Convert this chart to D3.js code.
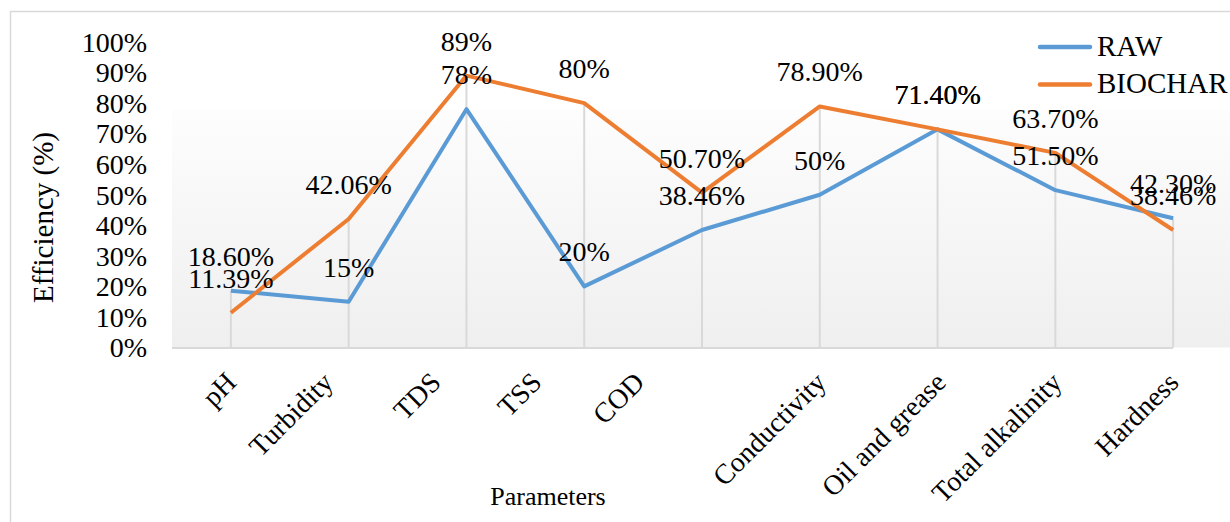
<!DOCTYPE html>
<html>
<head>
<meta charset="utf-8">
<script src="https://cdn.jsdelivr.net/npm/d3@7/dist/d3.min.js"></script>
<style>
  html, body { margin: 0; padding: 0; background: #ffffff; }
  svg { display: block; }
  text { font-family: "Liberation Serif", "Times New Roman", serif; fill: #000; }
</style>
</head>
<body>
<svg id="chart" width="1230" height="522"></svg>
<script>
// Removal efficiency per water-quality parameter
const categories = ["pH", "Turbidity", "TDS", "TSS", "COD", "Conductivity", "Oil and grease", "Total alkalinity", "Hardness"];
const rawValues = [0.186, 0.15, 0.78, 0.20, 0.3846, 0.50, 0.714, 0.515, 0.423];
const biocharValues = [0.1139, 0.4206, 0.89, 0.80, 0.507, 0.789, 0.714, 0.637, 0.3846];
const rawLabels = ["18.60%", "15%", "78%", "20%", "38.46%", "50%", "71.40%", "51.50%", "42.30%"];
const biocharLabels = ["11.39%", "42.06%", "89%", "80%", "50.70%", "78.90%", "71.40%", "63.70%", "38.46%"];
const yTicks = [0, 0.1, 0.2, 0.3, 0.4, 0.5, 0.6, 0.7, 0.8, 0.9, 1.0];

const series = [
  { name: "RAW", color: "#5B9BD5", values: rawValues, labels: rawLabels },
  { name: "BIOCHAR", color: "#ED7D31", values: biocharValues, labels: biocharLabels }
];

// Hand-tuned horizontal shifts for the rotated category labels
const catLabelShift = [-3, -24, -34, -51, -66, -2, 0, -2, -3];

const svg = d3.select("#chart");
const plot = { left: 172, right: 1232, top: 110, bottom: 347.5 };

const x = d3.scalePoint().domain(categories).range([plot.left, plot.right]).padding(0.5);
const y = d3.scaleLinear().domain([0, 1]).range([347.5, 42]);

// Chart frame
svg.append("rect")
  .attr("x", 10.5).attr("y", 11.5)
  .attr("width", 1300).attr("height", 600)
  .attr("fill", "none").attr("stroke", "#d9d9d9").attr("stroke-width", 1.5);

// Plot-area fill
const defs = svg.append("defs");
const grad = defs.append("linearGradient").attr("id", "plotFill")
  .attr("x1", 0).attr("y1", 0).attr("x2", 0).attr("y2", 1);
grad.append("stop").attr("offset", "0%").attr("stop-color", "#fdfdfd");
grad.append("stop").attr("offset", "100%").attr("stop-color", "#efefef");

svg.append("rect")
  .attr("x", plot.left).attr("y", plot.top)
  .attr("width", plot.right - plot.left).attr("height", plot.bottom - plot.top)
  .attr("fill", "url(#plotFill)");

// Drop lines from the higher point of each category down to the axis
svg.append("g").selectAll("line")
  .data(categories)
  .join("line")
  .attr("x1", d => x(d)).attr("x2", d => x(d))
  .attr("y1", (d, i) => y(Math.max(rawValues[i], biocharValues[i])))
  .attr("y2", y(0))
  .attr("stroke", "#d9d9d9").attr("stroke-width", 2);

// Category axis line
svg.append("line")
  .attr("x1", plot.left).attr("x2", x(categories[categories.length - 1]))
  .attr("y1", y(0) + 0.5).attr("y2", y(0) + 0.5)
  .attr("stroke", "#d9d9d9").attr("stroke-width", 2);

// Value axis
const yAxis = d3.axisLeft(y)
  .tickValues(yTicks)
  .tickFormat(d3.format(".0%"))
  .tickSize(0)
  .tickPadding(0);
const yAxisG = svg.append("g")
  .attr("transform", "translate(147,0)")
  .call(yAxis);
yAxisG.select(".domain").remove();
yAxisG.selectAll("text")
  .style("font-family", "'Liberation Serif', 'Times New Roman', serif")
  .style("font-size", "28px")
  .attr("fill", "#000")
  .attr("dy", "0.33em");

// Category labels, rotated
svg.append("g").selectAll("text")
  .data(categories)
  .join("text")
  .attr("transform", (d, i) => `translate(${x(d) + 10 + catLabelShift[i]},384) rotate(-45)`)
  .attr("text-anchor", "end")
  .style("font-size", "28px")
  .text(d => d);

// Axis titles
svg.append("text")
  .attr("transform", "translate(52.5,217.5) rotate(-90)")
  .attr("text-anchor", "middle")
  .style("font-size", "29px")
  .text("Efficiency (%)");

svg.append("text")
  .attr("x", 548).attr("y", 505)
  .attr("text-anchor", "middle")
  .style("font-size", "26px")
  .text("Parameters");

// Series lines
const line = d3.line()
  .x((d, i) => x(categories[i]))
  .y(d => y(d));

svg.append("g").selectAll("path")
  .data(series)
  .join("path")
  .attr("d", s => line(s.values))
  .attr("fill", "none")
  .attr("stroke", s => s.color)
  .attr("stroke-width", 4)
  .attr("stroke-linejoin", "round")
  .attr("stroke-linecap", "butt");

// Data labels above each point
series.forEach(s => {
  svg.append("g").selectAll("text")
    .data(s.values)
    .join("text")
    .attr("x", (d, i) => x(categories[i]))
    .attr("y", d => y(d) - 25)
    .attr("text-anchor", "middle")
    .style("font-size", "28px")
    .text((d, i) => s.labels[i]);
});

// Legend
const legend = svg.append("g");
series.forEach((s, i) => {
  const ly = 47 + i * 37.5;
  legend.append("line")
    .attr("x1", 1040).attr("x2", 1090)
    .attr("y1", ly).attr("y2", ly)
    .attr("stroke", s.color).attr("stroke-width", 4.5)
    .attr("stroke-linecap", "round");
  legend.append("text")
    .attr("x", 1097).attr("y", ly + 8.5)
    .style("font-size", "29px")
    .text(s.name);
});
</script>
</body>
</html>
